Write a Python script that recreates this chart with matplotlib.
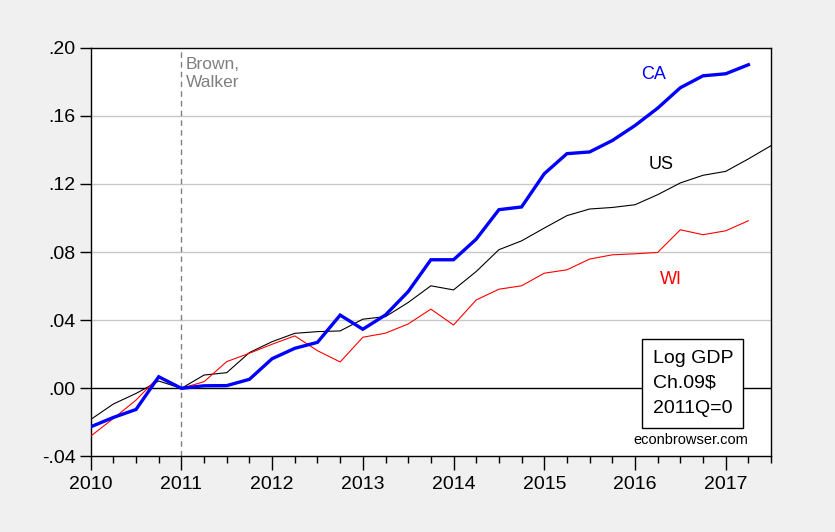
import numpy as np
import matplotlib.pyplot as plt
from matplotlib.patches import Rectangle
from matplotlib.ticker import MultipleLocator

plt.rcParams['font.family'] = ['Liberation Sans', 'DejaVu Sans']

# quarterly log GDP, 2011Q1 = 0
start_year = 2010.0
ca = [-0.0226, -0.0171, -0.0124, 0.0068, 0.0, 0.0015, 0.0016, 0.0053,
      0.0174, 0.0235, 0.0270, 0.0430, 0.0347, 0.0431, 0.0568, 0.0755,
      0.0755, 0.0876, 0.1049, 0.1065, 0.1260, 0.1378, 0.1388, 0.1455,
      0.1543, 0.1645, 0.1765, 0.1835, 0.1847, 0.1900]
us = [-0.0183, -0.0092, -0.0030, 0.0043, 0.0, 0.0078, 0.0092, 0.0210,
      0.0274, 0.0323, 0.0333, 0.0337, 0.0406, 0.0421, 0.0504, 0.0602,
      0.0578, 0.0686, 0.0814, 0.0866, 0.0941, 0.1014, 0.1053, 0.1062,
      0.1078, 0.1137, 0.1206, 0.1251, 0.1274, 0.1347, 0.1425]
wi = [-0.0281, -0.0177, -0.0069, 0.0068, 0.0, 0.0039, 0.0157, 0.0206,
      0.0259, 0.0308, 0.0221, 0.0155, 0.0300, 0.0324, 0.0378, 0.0465,
      0.0372, 0.0519, 0.0582, 0.0602, 0.0676, 0.0696, 0.0759, 0.0784,
      0.0790, 0.0798, 0.0931, 0.0902, 0.0925, 0.0984]

yticks = [-0.04, 0.0, 0.04, 0.08, 0.12, 0.16, 0.20]
ytick_labels = ['-.04', '.00', '.04', '.08', '.12', '.16', '.20']
years = list(range(2010, 2018))
box_lines = ['Log GDP', 'Ch.09$', '2011Q=0']


def qdates(n):
    return start_year + np.arange(n) * 0.25


fig = plt.figure(figsize=(8.35, 5.32), dpi=100, facecolor='#f0f0f0')
ax = fig.add_axes([0.1086, 0.142, 0.8148, 0.7683])
ax.set_facecolor('white')

for y in [0.04, 0.08, 0.12, 0.16]:
    ax.axhline(y, color='#c8c8c8', lw=1.0, zorder=1)
ax.axhline(0, color='black', lw=1.0, zorder=2)
ax.axvline(2011, color='#808080', lw=1.0, ls=(0, (4, 3)), zorder=2)

ax.plot(qdates(len(us)), us, color='black', lw=0.8, zorder=3)
ax.plot(qdates(len(wi)), wi, color='red', lw=0.8, zorder=4)
ax.plot(qdates(len(ca)), ca, color='#0000ff', lw=2.4, zorder=5,
        solid_joinstyle='miter')

ax.set_xlim(2010, 2017.5)
ax.set_ylim(-0.04, 0.20)
ax.set_yticks(yticks)
ax.set_yticklabels(ytick_labels)
ax.set_xticks(years)
ax.set_xticklabels([str(y) for y in years])
ax.xaxis.set_minor_locator(MultipleLocator(0.25))
ax.tick_params(axis='both', which='major', labelsize=14, direction='out',
               width=1.0, color='black')
ax.tick_params(axis='x', which='major', length=10, pad=4)
ax.tick_params(axis='x', which='minor', length=5, width=1.0)
ax.tick_params(axis='y', which='major', length=8, pad=3)
ax.tick_params(top=False, right=False)
for s in ax.spines.values():
    s.set_linewidth(1.0)

ax.text(2011.052, 0.1948, 'Brown,\nWalker', color='#808080', fontsize=12.5,
        va='top', ha='left', linespacing=1.3)
ax.text(2016.065, 0.184, 'CA', color='#0000ff', fontsize=13, va='center')
ax.text(2016.155, 0.1313, 'US', color='black', fontsize=13, va='center')
ax.text(2016.28, 0.0637, 'WI', color='red', fontsize=13, va='center')

# note box
ax.add_patch(Rectangle((2016.082, -0.0235), 1.104, 0.0523, facecolor='white',
                       edgecolor='black', lw=1.0, zorder=6))
for yv, line in zip([0.0178, 0.0031, -0.0116], box_lines):
    ax.text(2016.196, yv, line, fontsize=14, ha='left', va='center', zorder=7)
ax.text(2016.615, -0.0304, 'econbrowser.com', fontsize=10.5, ha='center',
        va='center')

fig.savefig('out.png', dpi=100, facecolor=fig.get_facecolor())
